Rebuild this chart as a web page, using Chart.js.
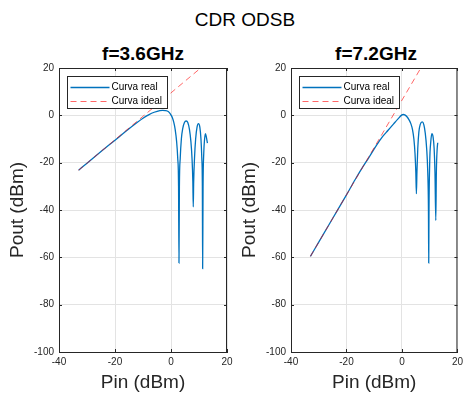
<!DOCTYPE html>
<html>
<head>
<meta charset="utf-8">
<script src="https://cdn.jsdelivr.net/npm/chart.js@4.4.1/dist/chart.umd.min.js"></script>
<style>
  body { margin: 0; width: 467px; height: 396px; background: #fff; overflow: hidden; position: relative;
         font-family: "Liberation Sans", Arial, sans-serif; color: #000; }
  .t { position: absolute; white-space: nowrap; transform: translate(-50%, -50%); line-height: 1; }
  canvas { position: absolute; top: 0; }
</style>
</head>
<body>
<div class="t" style="left:245px;top:19px;font-size:19px;">CDR ODSB</div>
<div class="t" style="left:143px;top:53px;font-size:19px;font-weight:bold;">f=3.6GHz</div>
<div class="t" style="left:376px;top:53px;font-size:19px;font-weight:bold;">f=7.2GHz</div>
<canvas id="c1" width="240" height="396" style="left:0"></canvas>
<canvas id="c2" width="235" height="396" style="left:232px"></canvas>
<script>
// axis ticks
const xTicks = [-40, -20, 0, 20];
const yTicks = [-100, -80, -60, -40, -20, 0, 20];
const seriesLabels = ['Curva real', 'Curva ideal'];

// f=3.6GHz
const pin36Real = [-33, -30, -25, -20, -16, -12, -10, -8, -6, -4, -3, -2, -1, -0.3, 0.5, 1, 1.5, 2, 2.4, 2.7, 2.85, 3, 3.3, 3.7, 4.2, 4.8, 5.4, 6, 6.6, 7.1, 7.5, 7.8, 7.95, 8.1, 8.4, 8.8, 9.3, 9.8, 10.3, 10.7, 11, 11.2, 11.3, 11.45, 11.7, 12, 12.3, 12.6, 13];
const pout36Real = [-23.2, -20.2, -15.3, -10.5, -6.6, -2.9, -1.2, 0.2, 1.3, 2.0, 2.1, 2.0, 1.6, 0.7, -1.0, -3.0, -6.0, -11, -18, -30, -62.4, -30, -18, -10, -5.5, -3, -2.4, -3, -6, -11, -18, -28, -38.7, -28, -18, -10, -5, -3.5, -5, -10, -18, -30, -64.8, -30, -16, -10, -7.7, -9, -11.7];
const pin36Ideal = [-33, 10.6];
const pout36Ideal = [-23.2, 20];

// f=7.2GHz
const pin72Real = [-33, -30, -25, -20, -16.8, -14, -12, -9.2, -7, -5, -3, -1.5, 0, 0.5, 1, 1.8, 2.5, 3.2, 3.8, 4.3, 4.7, 5.0, 5.2, 5.4, 5.7, 6.1, 6.6, 7.3, 7.9, 8.4, 8.9, 9.3, 9.55, 9.65, 9.75, 10, 10.4, 10.8, 11.2, 11.6, 11.9, 12.2, 12.4, 12.7, 12.9];
const pout72Real = [-59.6, -53.6, -43.6, -33.6, -27.0, -21.6, -18.0, -12.7, -9.0, -6.3, -3.6, -1.6, 0.2, 0.35, 0.2, -0.6, -1.8, -3.5, -6, -10, -16, -24, -33.1, -24, -14, -7, -3.8, -2.8, -4, -7.5, -14, -24, -40, -62.4, -40, -20, -11, -7.7, -9, -14, -24, -44.4, -24, -14, -11.6];
const pin72Ideal = [-33, 6.8];
const pout72Ideal = [-59.6, 20];

const FONT = '"Liberation Sans", Arial, sans-serif';
const AXIS = '#262626';
const realColor = '#0072BD';
const idealColor = 'rgba(255,0,0,0.6)';

const toPts = (xs, ys) => xs.map((v, i) => ({ x: v, y: ys[i] }));

// box round the axes + inward tick marks, like matlab
const framePlugin = {
  id: 'frame',
  afterDatasetsDraw(chart) {
    const { ctx, chartArea: a, scales: { x, y } } = chart;
    ctx.save();
    ctx.strokeStyle = AXIS;
    ctx.lineWidth = 1;
    ctx.beginPath();
    ctx.moveTo(a.left, a.top + 0.5);
    ctx.lineTo(a.right - 0.5, a.top + 0.5);
    ctx.lineTo(a.right - 0.5, a.bottom);
    xTicks.forEach(v => {
      const p = Math.round(x.getPixelForValue(v)) + 0.5;
      ctx.moveTo(p, a.bottom); ctx.lineTo(p, a.bottom - 3);
      ctx.moveTo(p, a.top); ctx.lineTo(p, a.top + 3);
    });
    yTicks.forEach(v => {
      const p = Math.round(y.getPixelForValue(v)) + 0.5;
      ctx.moveTo(a.left, p); ctx.lineTo(a.left + 3, p);
      ctx.moveTo(a.right, p); ctx.lineTo(a.right - 3, p);
    });
    ctx.stroke();
    ctx.restore();
  },
  afterDraw(chart) {
    // legend box in the top left corner
    const { ctx, chartArea: a } = chart;
    const x0 = a.left + 8.5, y0 = a.top + 8.5, w = 100, h = 32;
    ctx.save();
    ctx.fillStyle = '#fff';
    ctx.fillRect(x0, y0, w, h);
    ctx.strokeStyle = AXIS;
    ctx.lineWidth = 1;
    ctx.strokeRect(x0, y0, w, h);
    ctx.font = '10px ' + FONT;
    ctx.textBaseline = 'middle';
    ctx.fillStyle = '#000';
    [0, 1].forEach(i => {
      const ds = chart.data.datasets[i];
      const ly = Math.round(y0 + 10 + i * 14) + 0.5;
      ctx.beginPath();
      ctx.strokeStyle = ds.borderColor;
      ctx.lineWidth = ds.borderWidth;
      ctx.setLineDash(ds.borderDash || []);
      ctx.moveTo(x0 + 3, ly);
      ctx.lineTo(x0 + 42, ly);
      ctx.stroke();
      ctx.fillText(ds.label, x0 + 44, ly);
    });
    ctx.restore();
  }
};

function makeChart(id, realPin, realPout, idealPin, idealPout, padRight) {
  return new Chart(document.getElementById(id), {
    type: 'line',
    data: {
      datasets: [
        { label: seriesLabels[0], data: toPts(realPin, realPout), borderColor: realColor, borderWidth: 1.3,
          pointRadius: 0, cubicInterpolationMode: 'monotone', order: 1 },
        { label: seriesLabels[1], data: toPts(idealPin, idealPout), borderColor: idealColor, borderWidth: 1,
          borderDash: [6, 4], pointRadius: 0, order: 0 }
      ]
    },
    options: {
      responsive: false,
      devicePixelRatio: 1,
      animation: false,
      layout: { padding: { top: 68, right: padRight, bottom: 0, left: 0 } },
      plugins: { legend: { display: false }, tooltip: { enabled: false } },
      scales: {
        x: {
          type: 'linear', min: -40, max: 20,
          afterFit: s => { s.height = 44; },
          afterBuildTicks: s => { s.ticks = xTicks.map(v => ({ value: v })); },
          grid: { color: '#e3e3e3', drawTicks: false },
          border: { color: AXIS },
          ticks: { color: AXIS, padding: 4, font: { family: FONT, size: 10 }, maxRotation: 0 },
          title: { display: true, text: 'Pin (dBm)', color: AXIS, padding: { top: 0, bottom: 3.5 },
                   font: { family: FONT, size: 19, lineHeight: 1 } }
        },
        y: {
          type: 'linear', min: -100, max: 20,
          afterFit: s => { s.width = 59; },
          afterBuildTicks: s => { s.ticks = yTicks.map(v => ({ value: v })); },
          grid: { color: '#e3e3e3', drawTicks: false },
          border: { color: AXIS },
          ticks: { color: AXIS, padding: 5, font: { family: FONT, size: 10 } },
          title: { display: true, text: 'Pout (dBm)', color: AXIS, padding: { top: 8, bottom: 0 },
                   font: { family: FONT, size: 19, lineHeight: 1 } }
        }
      }
    },
    plugins: [framePlugin]
  });
}

makeChart('c1', pin36Real, pout36Real, pin36Ideal, pout36Ideal, 13);
makeChart('c2', pin72Real, pout72Real, pin72Ideal, pout72Ideal, 6);
</script>
</body>
</html>
